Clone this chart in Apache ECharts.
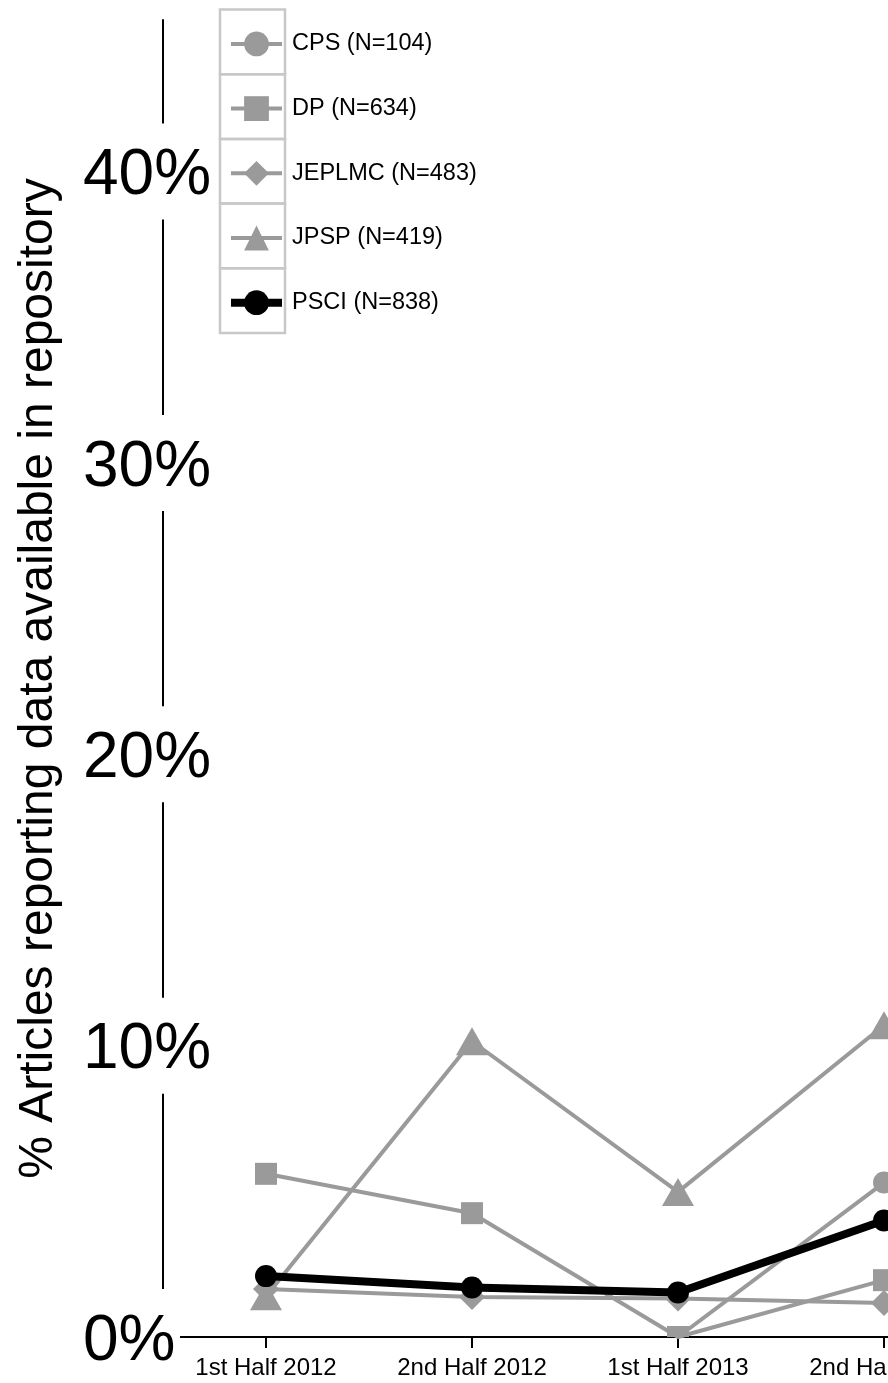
<!DOCTYPE html>
<html>
<head>
<meta charset="utf-8">
<script src="https://cdn.jsdelivr.net/npm/echarts@6/dist/echarts.min.js"></script>
<style>
  html, body { margin: 0; padding: 0; background: #fff; }
  #chart { width: 888px; height: 1383px; }
</style>
</head>
<body>
<div id="chart"></div>
<script>
// Half-year periods on the x axis
const periods = ['1st Half 2012', '2nd Half 2012', '1st Half 2013', '2nd Half 2013'];
// Journal names shown in the legend
const journals = ['CPS (N=104)', 'DP (N=634)', 'JEPLMC (N=483)', 'JPSP (N=419)', 'PSCI (N=838)'];
// Percent of articles reporting data available in a repository
const cps    = [null, null, 0, 5.3];
const dp     = [5.6, 4.25, 0, 1.95];
const jeplmc = [1.65, 1.37, 1.32, 1.17];
const jpsp   = [1.4, 10.15, 4.98, 10.7];
const psci   = [2.09, 1.7, 1.53, 4.0];
// Y axis tick step (percent)
const yStep = 10;

const FONT = '"Liberation Sans", Arial, Helvetica, sans-serif';
const GRAY = '#9a9a9a';

// Markers sitting on the baseline are cut in half, like a clipped plot region
const HALF_CIRCLE = 'path://M0,10A10,10 0 0 1 20,10Z';
function points(values, symbol, size) {
  return values.map(v => {
    if (v === 0) {
      return {
        value: v,
        symbol: symbol === 'circle' ? HALF_CIRCLE : symbol,
        symbolSize: [size, size / 2],
        symbolOffset: [0, '-50%']
      };
    }
    return v;
  });
}

function lineSeries(name, values, symbol, size, color, width) {
  return {
    name: name,
    type: 'line',
    data: points(values, symbol, Array.isArray(size) ? size[0] : size),
    symbol: symbol,
    symbolSize: size,
    showAllSymbol: true,
    connectNulls: false,
    clip: false,
    itemStyle: { color: color },
    lineStyle: { color: color, width: width },
    emphasis: { disabled: true },
    animation: false
  };
}

const chart = echarts.init(document.getElementById('chart'), null, { renderer: 'canvas' });

// Legend cell borders
const cellTop = 9.5, cellH = 64.7;
const legendCells = journals.map((_, i) => ({
  type: 'rect',
  shape: { x: 220, y: cellTop + i * cellH, width: 65, height: cellH },
  style: { fill: 'none', stroke: '#c8c8c8', lineWidth: 2.5 },
  z: 1
}));

chart.setOption({
  backgroundColor: '#fff',
  animation: false,
  textStyle: { fontFamily: FONT },
  grid: {
    left: 163, top: 20, bottom: 46, right: -99,
    containLabel: false,
    outerBoundsMode: 'none'
  },
  legend: {
    orient: 'vertical',
    left: 227, top: 31.5,
    padding: 0,
    itemWidth: 51, itemHeight: 31, itemGap: 39.9,
    selectedMode: false,
    textStyle: { fontSize: 23.5, color: '#000', fontFamily: FONT, padding: [0, 0, 0, 5] },
    data: journals.map((n, i) => ({
      name: n,
      lineStyle: { width: i === 4 ? 8 : 4 }
    }))
  },
  xAxis: {
    type: 'category',
    data: periods,
    boundaryGap: true,
    axisLine: { show: false },
    axisTick: { show: true, alignWithLabel: true, length: 11, lineStyle: { color: '#000', width: 2 } },
    axisLabel: { interval: 0, fontSize: 24, color: '#000', fontFamily: FONT, margin: 19 },
    splitLine: { show: false }
  },
  yAxis: {
    type: 'value',
    min: 0, max: 45.2, interval: yStep,
    name: '% Articles reporting data available in repository',
    nameLocation: 'middle',
    nameGap: 100,
    nameTextStyle: { fontSize: 48, color: '#000', fontFamily: FONT },
    axisLine: { show: true, lineStyle: { color: '#000', width: 2 } },
    axisTick: { show: false },
    splitLine: { show: false },
    axisLabel: {
      showMaxLabel: false,
      formatter: v => '{t|' + v + '%}',
      align: 'left',
      color: '#000', fontFamily: FONT,
      margin: 80,
      backgroundColor: '#fff',
      padding: [16, 0, 16, 0],
      rich: {
        t: { fontSize: 64, lineHeight: 64, color: '#000', fontFamily: FONT, padding: [10, 0, 0, 0] }
      }
    }
  },
  graphic: legendCells,
  series: [
    lineSeries(journals[1], dp, 'rect', 22, GRAY, 4),
    lineSeries(journals[2], jeplmc, 'diamond', 26, GRAY, 4),
    lineSeries(journals[3], jpsp, 'triangle', [32, 28], GRAY, 4),
    lineSeries(journals[0], cps, 'circle', 22, GRAY, 4),
    lineSeries(journals[4], psci, 'circle', 22, '#000', 8)
  ]
});

// Baseline of the plot: starts a little right of the y axis
const y0 = chart.convertToPixel({ yAxisIndex: 0 }, 0);
const gridLeft = chart.convertToPixel({ xAxisIndex: 0 }, periods[0]) - 103;
chart.setOption({
  graphic: legendCells.concat([{
    type: 'line',
    shape: { x1: gridLeft + 17, y1: y0, x2: 888, y2: y0 },
    style: { stroke: '#000', lineWidth: 2 },
    z: 0
  }])
});
</script>
</body>
</html>
